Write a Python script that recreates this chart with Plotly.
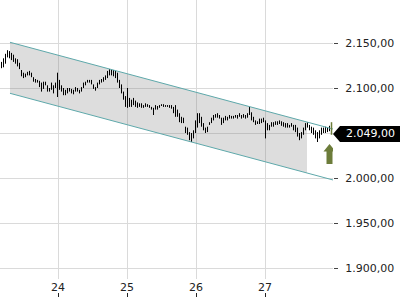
import numpy as np
import plotly.graph_objects as go

# ---- data ----
bar_high = [
    2129, 2133, 2138, 2142, 2141, 2139, 2137, 2133, 2132, 2128,
    2120, 2117, 2116, 2118, 2119, 2117, 2112, 2110, 2109, 2108,
    2106, 2107, 2107, 2103, 2100, 2106, 2103, 2106, 2117, 2109,
    2103, 2100, 2098, 2100, 2100, 2099, 2098, 2101, 2100, 2098,
    2101, 2106, 2107, 2109, 2109, 2109, 2104, 2101, 2106, 2109,
    2110, 2112, 2114, 2119, 2121, 2121, 2120, 2119, 2117, 2109,
    2104, 2096, 2091, 2100, 2089, 2087, 2089, 2086, 2084, 2083,
    2083, 2081, 2083, 2082, 2081, 2079, 2078, 2081, 2080, 2081,
    2082, 2082, 2081, 2081, 2081, 2081, 2079, 2081, 2076, 2072,
    2068, 2067, 2057, 2056, 2051, 2050, 2053, 2064, 2072, 2072,
    2068, 2061, 2056, 2057, 2062, 2067, 2070, 2071, 2072, 2070,
    2067, 2067, 2069, 2068, 2070, 2069, 2069, 2070, 2070, 2072,
    2070, 2071, 2070, 2072, 2079, 2073, 2068, 2064, 2063, 2066,
    2066, 2067, 2064, 2061, 2059, 2062, 2062, 2063, 2063, 2064,
    2063, 2062, 2061, 2061, 2059, 2061, 2059, 2059, 2056, 2050,
    2051, 2056, 2061, 2062, 2059, 2057, 2056, 2053, 2051, 2053,
    2056, 2056, 2057, 2056, 2058, 2062,
]
bar_low = [
    2122, 2123, 2127, 2134, 2133, 2131, 2129, 2127, 2124, 2121,
    2113, 2111, 2112, 2114, 2114, 2112, 2107, 2106, 2106, 2101,
    2096, 2099, 2103, 2096, 2096, 2098, 2094, 2100, 2090, 2098,
    2096, 2092, 2092, 2094, 2096, 2094, 2093, 2096, 2096, 2094,
    2096, 2100, 2103, 2106, 2106, 2104, 2099, 2097, 2100, 2104,
    2106, 2107, 2109, 2111, 2114, 2114, 2113, 2111, 2106, 2100,
    2094, 2087, 2079, 2078, 2079, 2079, 2081, 2079, 2078, 2079,
    2078, 2078, 2079, 2079, 2078, 2076, 2070, 2076, 2076, 2078,
    2080, 2079, 2079, 2079, 2078, 2077, 2072, 2068, 2068, 2062,
    2061, 2061, 2050, 2048, 2042, 2040, 2044, 2050, 2056, 2061,
    2057, 2053, 2050, 2051, 2059, 2061, 2064, 2067, 2067, 2066,
    2059, 2061, 2064, 2064, 2066, 2066, 2066, 2067, 2066, 2068,
    2066, 2067, 2066, 2067, 2070, 2064, 2062, 2059, 2060, 2060,
    2061, 2062, 2044, 2053, 2053, 2057, 2057, 2059, 2059, 2060,
    2058, 2057, 2056, 2056, 2056, 2057, 2053, 2051, 2046, 2042,
    2044, 2048, 2053, 2056, 2053, 2050, 2048, 2044, 2040, 2044,
    2048, 2050, 2050, 2051, 2052, 2048,
]
last_close = 2049.0
start_day = 23.18114        # time of first bar (day of month)
bar_step = 2 / 69           # spacing between bars in days

channel_t = [23.304, 27.986]
channel_upper = [2150.8, 2054.4]
channel_lower = [2094.1, 1997.8]
fill_end_t = 27.609

x_range = [23.1594, 27.9855]
y_range = [1885.56, 2197.78]
x_ticks = [24, 25, 26, 27]
x_labels = ["24", "25", "26", "27"]
y_ticks = [1900, 1950, 2000, 2050, 2100, 2150]

# ---- styles ----
GRID = "#dadada"
TEAL = "#5ea8aa"
OLIVE = "#6c7c3a"
FONT = "DejaVu Sans"

times = start_day + bar_step * np.arange(len(bar_high))

fig = go.Figure()

# shaded channel area
ft = [channel_t[0], channel_t[0], fill_end_t, fill_end_t, channel_t[0]]
fu = float(np.interp(fill_end_t, channel_t, channel_upper))
fl = float(np.interp(fill_end_t, channel_t, channel_lower))
fy = [channel_lower[0], channel_upper[0], fu, fl, channel_lower[0]]
fig.add_trace(go.Scatter(x=ft, y=fy, fill="toself", fillcolor="rgba(120,120,120,0.25)",
                         line=dict(width=0), mode="lines", hoverinfo="skip"))

# price bars (high-low)
xs, ys = [], []
for t, h, l in zip(times[:-1], bar_high[:-1], bar_low[:-1]):
    xs += [t, t, None]
    ys += [l, h, None]
fig.add_trace(go.Scatter(x=xs, y=ys, mode="lines", line=dict(color="black", width=1),
                         hoverinfo="skip"))

# channel lines
fig.add_trace(go.Scatter(x=channel_t, y=channel_upper, mode="lines",
                         line=dict(color=TEAL, width=1), hoverinfo="skip"))
fig.add_trace(go.Scatter(x=channel_t, y=channel_lower, mode="lines",
                         line=dict(color=TEAL, width=1), hoverinfo="skip"))

# last (current) bar
fig.add_trace(go.Scatter(x=[times[-1], times[-1]], y=[bar_low[-1], bar_high[-1]], mode="lines",
                         line=dict(color=OLIVE, width=1.5), hoverinfo="skip"))

# invisible trace to carry the tick-mark axis
fig.add_trace(go.Scatter(x=[times[-1]], y=[last_close], xaxis="x2", yaxis="y", mode="markers",
                         marker=dict(opacity=0), hoverinfo="skip"))

# price pointer label
fig.add_shape(type="path", xref="paper", yref="y", xsizemode="pixel", ysizemode="pixel",
              xanchor=1, yanchor=last_close,
              path="M 0,0 L 7,8 L 67,8 L 67,-8 L 7,-8 Z",
              fillcolor="black", line=dict(width=0))
label = f"{last_close:,.2f}".replace(",", "X").replace(".", ",").replace("X", ".")
fig.add_annotation(xref="paper", yref="y", x=1, y=last_close, xanchor="center", yanchor="middle",
                   xshift=37, text=label, showarrow=False,
                   font=dict(family=FONT, size=11, color="white"))

# green up arrow
fig.add_shape(type="path", xref="x", yref="y", xsizemode="pixel", ysizemode="pixel",
              xanchor=float(times[-1]), yanchor=last_close,
              path="M -2,-10 L 4,-17.5 L 1,-17.5 L 1,-30 L -5,-30 L -5,-17.5 L -8,-17.5 Z",
              fillcolor=OLIVE, line=dict(width=0))

fig.update_layout(
    width=400, height=300,
    margin=dict(l=0, r=67, t=0, b=0),
    paper_bgcolor="white", plot_bgcolor="white",
    showlegend=False, separators=",.",
    font=dict(family=FONT, size=11, color="#222222"),
    xaxis=dict(range=x_range, tickvals=x_ticks, ticktext=x_labels,
               showgrid=True, gridcolor=GRID, gridwidth=1, zeroline=False, showline=False,
               ticks="", fixedrange=True),
    xaxis2=dict(range=x_range, overlaying="x", anchor="free", position=0.01,
                tickvals=x_ticks, showticklabels=False, ticks="inside", ticklen=4,
                tickcolor="#222222", showgrid=False, zeroline=False, showline=False),
    yaxis=dict(domain=[21 / 300, 1], range=[y_range[0] + 2 / 0.9, y_range[1]], side="right",
               tickvals=y_ticks, tickformat=",.2f", ticks="outside", ticklen=4,
               tickcolor="#444444", showgrid=True, gridcolor=GRID, gridwidth=1,
               zeroline=False, showline=False, ticklabelstandoff=5),
)

fig.write_html("out.html")
